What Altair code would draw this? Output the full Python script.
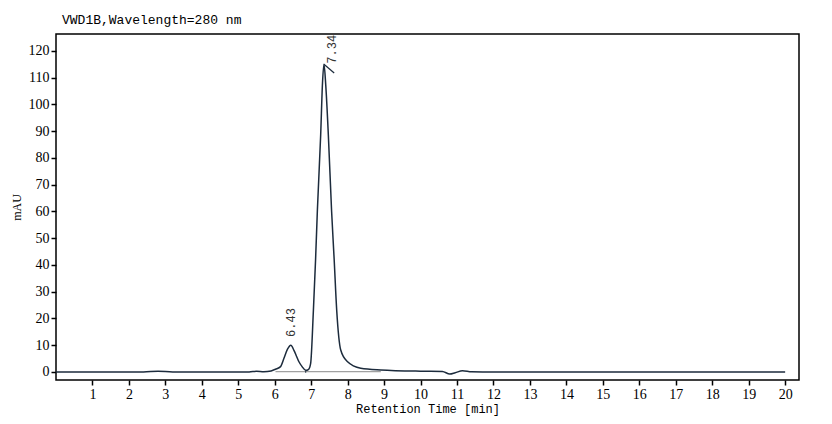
import altair as alt
import pandas as pd

# ---- chromatogram trace ----
time_min = [0.0, 2.4, 2.8, 3.2, 5.3, 5.5, 5.7, 5.9, 6.02, 6.16, 6.25, 6.35, 6.44,
            6.53, 6.60, 6.66, 6.75, 6.85, 6.93, 6.985, 7.06, 7.12, 7.17, 7.26,
            7.31, 7.35, 7.40, 7.47, 7.56, 7.63, 7.70, 7.81, 7.99, 8.36, 8.91,
            10.0, 10.6, 10.8, 10.95, 11.15, 11.4, 12.0, 20.0]
signal_mau = [0.0, 0.0, 0.3, 0.0, 0.0, 0.3, 0.1, 0.4, 1.0, 2.0, 5.0, 8.5, 10.0,
              8.0, 5.8, 3.9, 2.0, 0.6, 1.0, 3.2, 23.0, 42.0, 60.6, 88.6,
              108.0, 115.0, 107.0, 88.6, 60.0, 42.0, 23.0, 8.2, 3.9, 1.4, 0.75,
              0.3, 0.2, -0.8, -0.3, 0.5, 0.1, 0.0, 0.0]

# ---- peak annotations ----
peak_text = ["6.43", "7.34"]
peak_text_x = [6.44, 7.56]
peak_text_y = [13.1, 115.2]

leader_x = [7.35]
leader_x2 = [7.63]
leader_y = [115.0]
leader_y2 = [111.7]

# integration baseline and valley drop line
base_x = [6.02, 8.91]
base_y = [0.1, 0.1]
drop_x = [6.85]
drop_y = [0.6]
drop_y2 = [-0.3]

# ---- axis ticks ----
x_ticks = list(range(1, 21))
y_ticks = list(range(0, 121, 10))

trace = pd.DataFrame({"t": time_min, "v": signal_mau})
labels = pd.DataFrame({"t": peak_text_x, "v": peak_text_y, "txt": peak_text})
leader = pd.DataFrame({"t": leader_x, "t2": leader_x2, "v": leader_y, "v2": leader_y2})
base = pd.DataFrame({"t": base_x, "v": base_y})
drop = pd.DataFrame({"t": drop_x, "v": drop_y, "v2": drop_y2})

xs = alt.Scale(domain=[0, 20.38], nice=False, zero=False)
ys = alt.Scale(domain=[-3, 126.3], nice=False, zero=False)

x_axis = alt.Axis(values=x_ticks, title="Retention Time [min]", grid=False,
                  domain=False, tickSize=5, tickColor="#000", tickWidth=1.5,
                  labelFont="Liberation Serif", labelFontSize=14, labelColor="#000",
                  labelPadding=2, titleFont="Liberation Mono", titleFontSize=12,
                  titleFontWeight="normal", titleColor="#000", titlePadding=2)
y_axis = alt.Axis(values=y_ticks, title="mAU", grid=False, domain=False,
                  tickSize=5, tickColor="#000", tickWidth=1.5,
                  labelFont="Liberation Serif", labelFontSize=14, labelColor="#000",
                  labelPadding=2, titleFont="Liberation Serif", titleFontSize=12,
                  titleFontWeight="normal", titleColor="#000", titlePadding=5)


def X(field):
    return alt.X(field, scale=xs, axis=x_axis)


def Y(field):
    return alt.Y(field, scale=ys, axis=y_axis)


line = alt.Chart(trace).mark_line(color="#1c2b3c", strokeWidth=1.5,
                                  interpolate="monotone").encode(
    x=X("t:Q"), y=Y("v:Q"),
)

baseline = alt.Chart(base).mark_line(color="#8a8a8a", strokeWidth=1).encode(
    x=X("t:Q"), y=Y("v:Q"),
)

dropline = alt.Chart(drop).mark_rule(color="#1c2b3c", strokeWidth=1).encode(
    x=X("t:Q"), y=Y("v:Q"), y2="v2:Q",
)

leader_rule = alt.Chart(leader).mark_rule(color="#1c2b3c", strokeWidth=1.2).encode(
    x=X("t:Q"), x2="t2:Q", y=Y("v:Q"), y2="v2:Q",
)

text = alt.Chart(labels).mark_text(angle=270, align="left", baseline="middle",
                                   font="Liberation Mono", fontSize=12,
                                   color="#333333").encode(
    x=X("t:Q"), y=Y("v:Q"), text="txt:N",
)

chart = alt.layer(baseline, line, dropline, leader_rule, text).properties(
    width=743,
    height=346,
    padding={"left": 48, "top": 26, "right": 25, "bottom": 42},
    autosize=alt.AutoSizeParams(type="none"),
    background="white",
    title=alt.TitleParams("VWD1B,Wavelength=280 nm", anchor="start",
                          frame="group", font="Liberation Mono", fontSize=13,
                          fontWeight="normal", color="#000", offset=7, dx=6),
).configure_view(stroke="#000", strokeWidth=1.5)

chart.save("out.html", embed_options={"renderer": "svg", "actions": False})
